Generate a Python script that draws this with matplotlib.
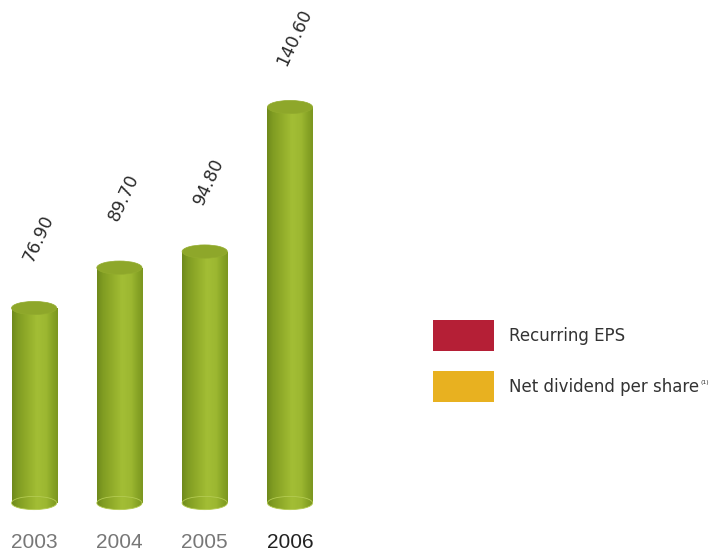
import matplotlib
matplotlib.use("Agg")
import matplotlib.pyplot as plt
from matplotlib.colors import LinearSegmentedColormap
from matplotlib.patches import Rectangle, Ellipse
import numpy as np

# Datos del grafico
years = ["2003", "2004", "2005", "2006"]
values = [76.90, 89.70, 94.80, 140.60]
year_colors = ["#777777", "#777777", "#777777", "#222222"]
legend_labels = ["Recurring EPS", "Net dividend per share"]
legend_colors = ["#B51F36", "#E8B120"]

base = 15.1          # valor que cae en la base de los cilindros
bar_w = 0.53
ell_h = 4.2          # alto de la elipse en unidades de datos
px_unit = 3.155      # pixeles por unidad

fig = plt.figure(figsize=(7.12, 5.55), dpi=100)
ax = fig.add_axes([0, 40 / 555, 340 / 712, 515 / 555])
ax.set_xlim(-0.4, -0.4 + 340 / 85.3)
ax.set_ylim(base - 12 / px_unit, base + 503 / px_unit)
ax.axis("off")

# Degradado horizontal del cilindro
cyl = LinearSegmentedColormap.from_list("cyl", [
    (0.0, "#6F8A1C"), (0.12, "#809C22"), (0.3, "#8FAA29"),
    (0.55, "#A3BE35"), (0.75, "#9CB731"), (0.9, "#87A325"), (1.0, "#7C9720")])
grad = np.linspace(0, 1, 64).reshape(1, -1)

for i, v in enumerate(values):
    x0 = i - bar_w / 2
    body = Rectangle((x0, base), bar_w, v - base, transform=ax.transData)
    im = ax.imshow(grad, cmap=cyl, aspect="auto", extent=[x0, x0 + bar_w, base, v],
                   zorder=2)
    im.set_clip_path(body)
    bot = Ellipse((i, base), bar_w, ell_h, transform=ax.transData)
    im2 = ax.imshow(grad, cmap=cyl, aspect="auto",
                    extent=[x0, x0 + bar_w, base - ell_h / 2, base + ell_h / 2],
                    zorder=2)
    im2.set_clip_path(bot)
    ax.add_patch(Ellipse((i, base), bar_w, ell_h, fill=False, ec="#B4CB52",
                         lw=0.6, zorder=3))
    ax.add_patch(Ellipse((i, v), bar_w, ell_h, fc="#8EA72A", ec="#93AC2E",
                         lw=0.5, zorder=4, clip_on=False))
    ax.annotate(f"{v:.2f}", (i, v), xytext=(4, 70), textcoords="offset pixels",
                rotation=65, ha="center", va="center", fontsize=12.5,
                color="#2b2b2b", family="DejaVu Sans", annotation_clip=False)

ax.set_xlim(-0.4, -0.4 + 340 / 85.3)
ax.set_ylim(base - 12 / px_unit, base + 503 / px_unit)

# Etiquetas de los anios
for i, (y, c) in enumerate(zip(years, year_colors)):
    xf = (ax.transData.transform((i, 0))[0]) / fig.dpi / 7.12
    fig.text(xf, 1 - 543 / 555, y, ha="center", va="center", fontsize=15,
             color=c, family="Liberation Sans")

# Leyenda
texts = []
for k, (lab, col) in enumerate(zip(legend_labels, legend_colors)):
    ytop = 320 + k * 51
    fig.patches.append(Rectangle((433 / 712, 1 - (ytop + 31) / 555), 61 / 712, 31 / 555,
                                 transform=fig.transFigure, fc=col, ec="none"))
    t = fig.text(509 / 712, 1 - (ytop + 16) / 555, lab, ha="left", va="center",
                 fontsize=12, color="#333333", family="DejaVu Sans")
    texts.append(t)

fig.canvas.draw()
bb = texts[1].get_window_extent()
fig.text((bb.x1 + 1) / 712, (bb.y1 - 2) / 555, "(1)", ha="left", va="top",
         fontsize=4.5, color="#333333")

fig.savefig("out.png", dpi=100)
